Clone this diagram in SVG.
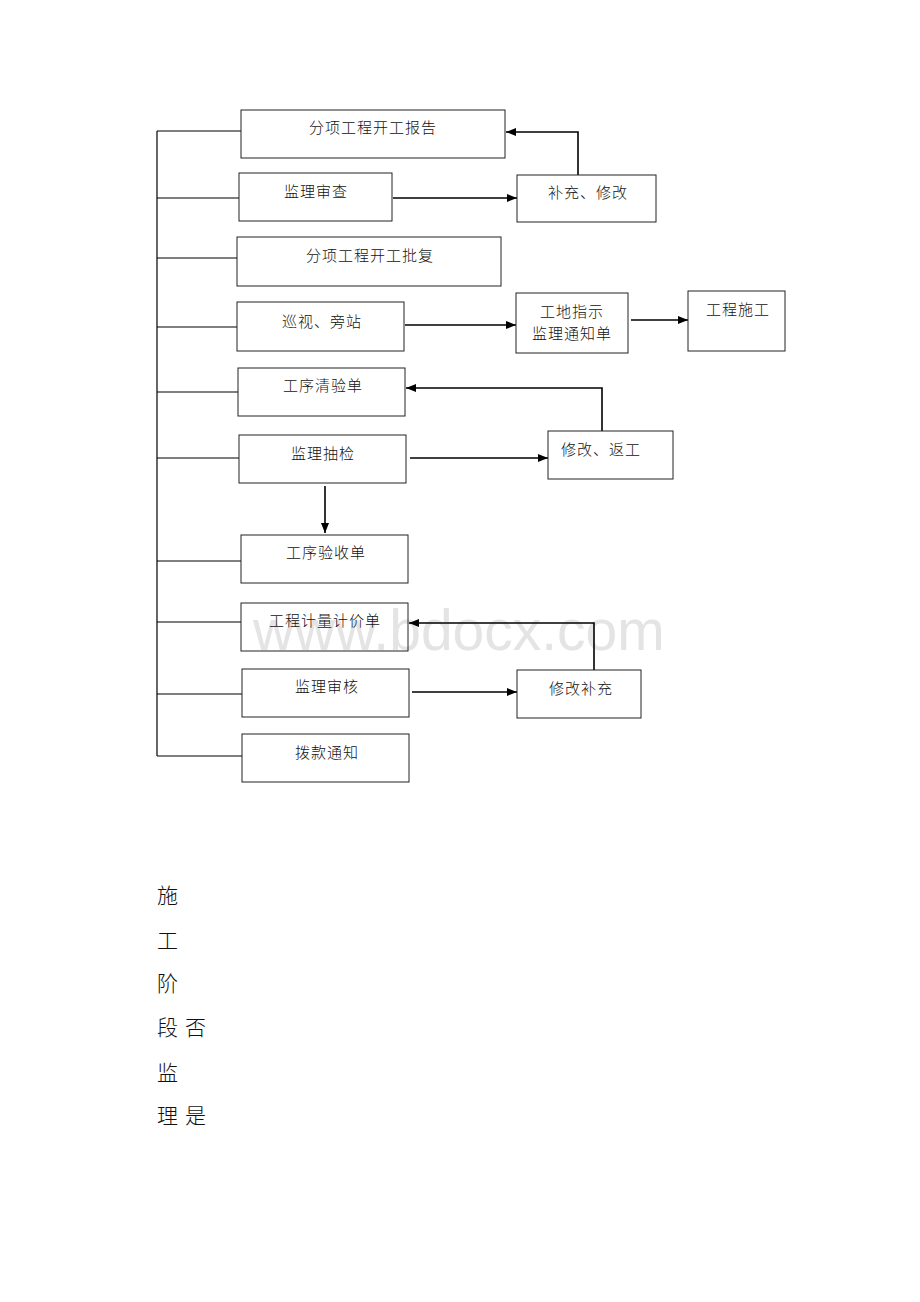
<svg xmlns="http://www.w3.org/2000/svg" width="920" height="1302" viewBox="0 0 920 1302">
<style>
.box{fill:#fff;fill-opacity:0;stroke:#222;stroke-width:1}
.ln{fill:none;stroke:#000;stroke-width:1.2}
.ar{fill:none;stroke:#000;stroke-width:1.6}
.t{font-family:"Noto Sans CJK SC","Liberation Sans",sans-serif;font-size:15px;letter-spacing:1px;fill:#111;text-anchor:middle;font-weight:300}
.big{font-family:"Noto Sans CJK SC","Liberation Sans",sans-serif;font-size:21px;fill:#111;font-weight:300}
.wm{font-family:"Liberation Sans",Arial,sans-serif;font-size:57px;fill:#e4e4e4}
</style>
<defs>
<marker id="ah" viewBox="0 0 10 8" refX="10" refY="4" markerWidth="10" markerHeight="9" markerUnits="userSpaceOnUse" orient="auto">
<path d="M0,0 L10,4 L0,8 Z" fill="#000"/>
</marker>
</defs>
<rect width="920" height="1302" fill="#fff"/>
<text class="wm" x="253" y="650">www.bdocx.com</text>

<g id="connectors">
<path class="ln" d="M157,131 V756"/>
<path class="ln" d="M157,131 H241 M157,198 H239 M157,258 H237 M157,327 H237 M157,392 H238 M157,458 H239 M157,561 H241 M157,622 H241 M157,694 H242 M157,756 H242"/>
<path class="ar" d="M578,175 V132 H506" marker-end="url(#ah)"/>
<path class="ar" d="M393,198 H517" marker-end="url(#ah)"/>
<path class="ar" d="M405,325 H516" marker-end="url(#ah)"/>
<path class="ar" d="M631,320 H688" marker-end="url(#ah)"/>
<path class="ar" d="M602,431 V388 H406" marker-end="url(#ah)"/>
<path class="ar" d="M410,458 H548" marker-end="url(#ah)"/>
<path class="ar" d="M325,486 V533" marker-end="url(#ah)"/>
<path class="ar" d="M594,670 V623 H409" marker-end="url(#ah)"/>
<path class="ar" d="M412,692 H517" marker-end="url(#ah)"/>
</g>

<g id="n1"><rect class="box" x="241" y="110" width="264" height="48"/><text class="t" x="373" y="133">分项工程开工报告</text></g>
<g id="n2"><rect class="box" x="239" y="173" width="153" height="48"/><text class="t" x="316" y="197">监理审查</text></g>
<g id="n3"><rect class="box" x="517" y="175" width="139" height="47"/><text class="t" x="588" y="198">补充、修改</text></g>
<g id="n4"><rect class="box" x="237" y="237" width="264" height="49"/><text class="t" x="370" y="261">分项工程开工批复</text></g>
<g id="n5"><rect class="box" x="237" y="302" width="167" height="49"/><text class="t" x="322" y="327">巡视、旁站</text></g>
<g id="n6"><rect class="box" x="516" y="293" width="112" height="60"/><text class="t" x="572" y="317">工地指示</text><text class="t" x="572" y="339">监理通知单</text></g>
<g id="n7"><rect class="box" x="688" y="291" width="97" height="60"/><text class="t" x="738" y="315">工程施工</text></g>
<g id="n8"><rect class="box" x="238" y="368" width="167" height="48"/><text class="t" x="323" y="391">工序清验单</text></g>
<g id="n9"><rect class="box" x="548" y="431" width="125" height="48"/><text class="t" x="601" y="455">修改、返工</text></g>
<g id="n10"><rect class="box" x="239" y="435" width="167" height="48"/><text class="t" x="323" y="459">监理抽检</text></g>
<g id="n11"><rect class="box" x="241" y="535" width="167" height="48"/><text class="t" x="326" y="558">工序验收单</text></g>
<g id="n12"><rect class="box" x="241" y="603" width="167" height="48"/><text class="t" x="325" y="626">工程计量计价单</text></g>
<g id="n13"><rect class="box" x="517" y="670" width="124" height="48"/><text class="t" x="581" y="694">修改补充</text></g>
<g id="n14"><rect class="box" x="242" y="669" width="167" height="48"/><text class="t" x="327" y="692">监理审核</text></g>
<g id="n15"><rect class="box" x="242" y="734" width="167" height="48"/><text class="t" x="327" y="758">拨款通知</text></g>

<g id="sidetext">
<text class="big" x="157" y="903">施</text>
<text class="big" x="157" y="948">工</text>
<text class="big" x="157" y="991">阶</text>
<text class="big" x="157" y="1035">段</text>
<text class="big" x="185" y="1035">否</text>
<text class="big" x="157" y="1080">监</text>
<text class="big" x="157" y="1123">理</text>
<text class="big" x="185" y="1123">是</text>
</g>
</svg>
